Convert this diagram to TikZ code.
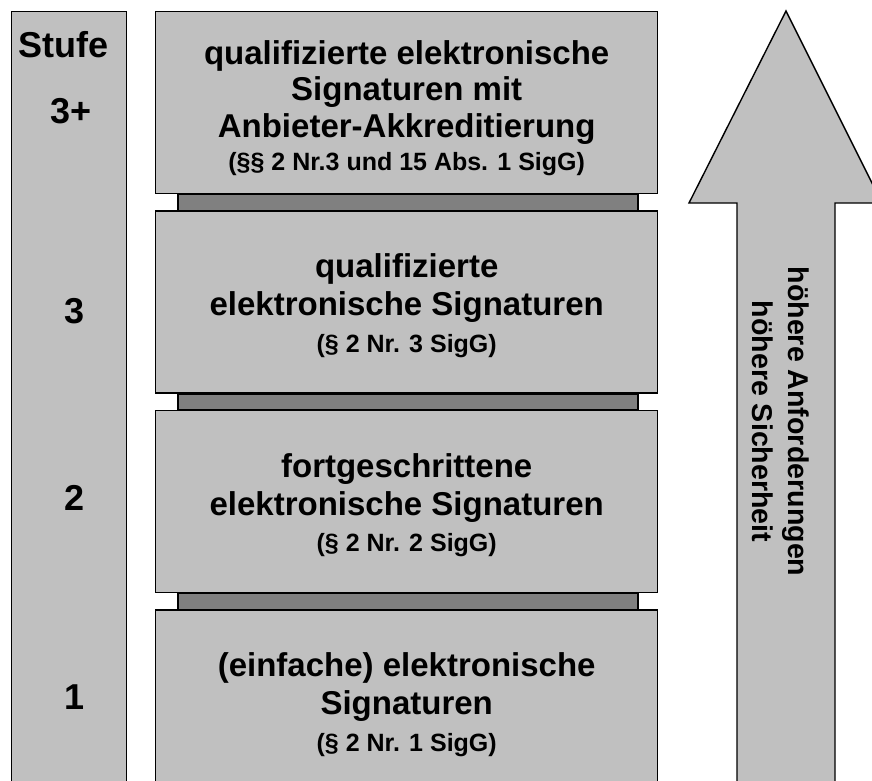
\documentclass[tikz,border=0pt]{standalone}
\usepackage{fontspec}
\setmainfont{Liberation Sans}
\usetikzlibrary{positioning}

\definecolor{boxgray}{HTML}{C0C0C0}
\definecolor{jointgray}{HTML}{808080}

\tikzset{
  level/.style={draw, fill=boxgray, line width=0.7pt, minimum width=251pt,
    minimum height=91pt, inner sep=0pt},
  leveltext/.style={anchor=north, inner sep=0pt, align=center,
    font=\fontsize{16.5}{19}\selectfont\bfseries},
  joint/.style={draw, fill=jointgray, line width=0.7pt},
  stufetext/.style={anchor=base, inner sep=0pt,
    font=\fontsize{18}{20}\selectfont\bfseries},
  rise/.style={draw, fill=boxgray, line width=0.7pt, line join=miter},
  risetext/.style={rotate=-90, inner sep=0pt, align=center,
    font=\fontsize{14.3}{18}\selectfont\bfseries},
}
\newcommand{\gesetz}[1]{{\fontsize{12.5}{15}\selectfont #1}}

\begin{document}
\begin{tikzpicture}[x=0.5pt, y=-0.5pt]
  \useasboundingbox (0,0) rectangle (872,781);
  \clip (0,0) rectangle (872,781);

  % Stufen
  \node[level, anchor=north west, minimum width=57.5pt, minimum height=420pt] (stufen) at (11,11) {};
  \node[stufetext] (stufe) at (63.5,57.7) {Stufe};
  \node[stufetext] (s3p) at (71.5,124) {3+};
  \node[stufetext] (s3) at (75,323) {3};
  \node[stufetext] (s2) at (75,510.7) {2};
  \node[stufetext] (s1) at (75,709) {1};

  % Signaturen
  \node[level, anchor=north west] (qualakk) at (155,11) {};
  \node[level] (qual) [below = 8pt of qualakk] {};
  \node[level] (fort) [below = 8pt of qual] {};
  \node[level] (einf) [below = 8pt of fort] {};

  \foreach \a/\b in {qualakk/qual, qual/fort, fort/einf}
    \draw[joint] ([xshift=11.5pt]\a.south west) rectangle ([xshift=-10.2pt]\b.north east);

  \node[leveltext, font=\fontsize{16.5}{18.2}\selectfont\bfseries] (tqualakk)
    at ([yshift=-14.5pt]qualakk.north)
    {qualifizierte elektronische\\Signaturen mit\\Anbieter-Akkreditierung\\[-1.55pt]\gesetz{(§§ 2 Nr.3 und 15 Abs. 1 SigG)}};
  \node[leveltext] (tqual) at ([yshift=-21.6pt]qual.north)
    {qualifizierte\\elektronische Signaturen\\[-0.75pt]\gesetz{(§ 2 Nr. 3 SigG)}};
  \node[leveltext] (tfort) at ([yshift=-21.6pt]fort.north)
    {fortgeschrittene\\elektronische Signaturen\\[-0.75pt]\gesetz{(§ 2 Nr. 2 SigG)}};
  \node[leveltext] (teinf) at ([yshift=-21.6pt]einf.north)
    {(einfache) elektronische\\Signaturen\\[-0.75pt]\gesetz{(§ 2 Nr. 1 SigG)}};

  % Pfeil
  \draw[rise] (786,11) -- (882,203) -- (835,203) -- (835,800) -- (737,800) -- (737,203) -- (689,203) -- cycle;
  \node[risetext] (rtext) at (780.5,421.5) {höhere Anforderungen\\höhere Sicherheit};
\end{tikzpicture}
\end{document}
